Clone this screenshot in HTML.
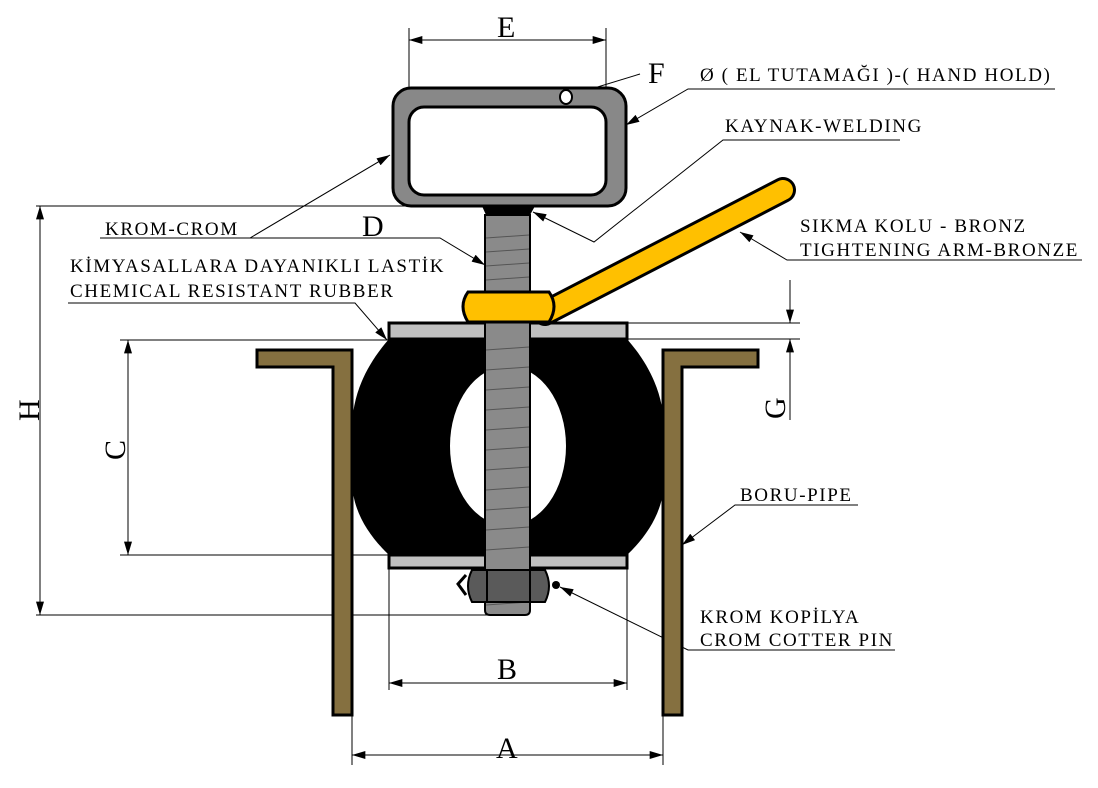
<!DOCTYPE html>
<html><head><meta charset="utf-8"><style>
body{margin:0;background:#fff}
svg text{font-family:"Liberation Serif",serif;fill:#000}
.t{font-size:19px;letter-spacing:1.6px}
.big{font-size:30px}
</style></head><body>
<svg width="1098" height="783" viewBox="0 0 1098 783" xmlns="http://www.w3.org/2000/svg">
<defs>
<marker id="a" viewBox="0 0 10 6" refX="10" refY="3" markerWidth="18" markerHeight="8" markerUnits="userSpaceOnUse" orient="auto-start-reverse"><path d="M0,0 L10,3 L0,6 Z" fill="#000"/></marker>
</defs>
<g stroke="#000" stroke-width="1" fill="none">
<line x1="409" y1="28" x2="409" y2="107"/><line x1="606" y1="28" x2="606" y2="107"/>
<line x1="409" y1="40" x2="606" y2="40" marker-start="url(#a)" marker-end="url(#a)"/>
<line x1="36" y1="206" x2="485" y2="206"/><line x1="36" y1="615" x2="490" y2="615"/>
<line x1="40" y1="206" x2="40" y2="615" marker-start="url(#a)" marker-end="url(#a)"/>
<line x1="120" y1="340" x2="389" y2="340"/><line x1="120" y1="555" x2="389" y2="555"/>
<line x1="128" y1="340" x2="128" y2="555" marker-start="url(#a)" marker-end="url(#a)"/>
<line x1="627" y1="323" x2="800" y2="323"/><line x1="627" y1="339" x2="800" y2="339"/>
<line x1="790" y1="280" x2="790" y2="323" marker-end="url(#a)"/>
<line x1="790" y1="420" x2="790" y2="339" marker-end="url(#a)"/>
<line x1="389" y1="568" x2="389" y2="690"/><line x1="627" y1="568" x2="627" y2="690"/>
<line x1="389" y1="683" x2="627" y2="683" marker-start="url(#a)" marker-end="url(#a)"/>
<line x1="352" y1="715" x2="352" y2="765"/><line x1="663" y1="715" x2="663" y2="765"/>
<line x1="352" y1="755" x2="663" y2="755" marker-start="url(#a)" marker-end="url(#a)"/>
<polyline points="640,74 568,96" marker-end="url(#a)"/>
<polyline points="1055,89 688,89 626,125" marker-end="url(#a)"/>
<polyline points="900,140 723,140 594,242 533,212" marker-end="url(#a)"/>
<polyline points="1082,260 787,260 740,232" marker-end="url(#a)"/>
<polyline points="100,238 250,238 390,155" marker-end="url(#a)"/>
<polyline points="250,238 440,238 485,265" marker-end="url(#a)"/>
<polyline points="68,303 355,303 387,340" marker-end="url(#a)"/>
<polyline points="858,505 735,505 682,545" marker-end="url(#a)"/>
<polyline points="895,650 688,650 560,587" marker-end="url(#a)"/>
</g>
<polygon points="257,350 352,350 352,715 333,715 333,367 257,367" fill="#857040" stroke="#000" stroke-width="3"/>
<polygon points="758,350 663,350 663,715 682,715 682,367 758,367" fill="#857040" stroke="#000" stroke-width="3"/>
<path d="M389,339 C362,370 352,400 352,430 L352,480 C352,510 368,535 389,555 L627,555 C648,535 664,510 664,480 L664,430 C664,400 654,370 627,339 Z" fill="#000"/>
<ellipse cx="508" cy="446" rx="58" ry="80" fill="#fff"/>
<rect x="389" y="323" width="238" height="16" fill="#c0c0c0" stroke="#000" stroke-width="3"/>
<rect x="389" y="555" width="238" height="13" fill="#c0c0c0" stroke="#000" stroke-width="3"/>
<path d="M485,215 L530,215 L530,610 Q530,615 525,615 L490,615 Q485,615 485,610 Z" fill="#8a8a8a" stroke="#000" stroke-width="2"/>
<g stroke="#555" stroke-width="1">
<line x1="486" y1="238" x2="529" y2="235"/><line x1="486" y1="252" x2="529" y2="249"/><line x1="486" y1="266" x2="529" y2="263"/><line x1="486" y1="280" x2="529" y2="277"/>
<line x1="486" y1="350" x2="529" y2="347"/><line x1="486" y1="370" x2="529" y2="367"/><line x1="486" y1="390" x2="529" y2="387"/><line x1="486" y1="410" x2="529" y2="407"/><line x1="486" y1="430" x2="529" y2="427"/><line x1="486" y1="450" x2="529" y2="447"/><line x1="486" y1="470" x2="529" y2="467"/><line x1="486" y1="490" x2="529" y2="487"/><line x1="486" y1="510" x2="529" y2="507"/><line x1="486" y1="530" x2="529" y2="527"/><line x1="486" y1="550" x2="529" y2="547"/><line x1="486" y1="605" x2="529" y2="602"/>
</g>
<path d="M472,570 L545,570 Q553,586 545,602 L472,602 Q464,586 472,570 Z" fill="#5a5a5a" stroke="#000" stroke-width="2"/>
<line x1="487" y1="570" x2="487" y2="602" stroke="#000" stroke-width="2"/><line x1="530" y1="570" x2="530" y2="602" stroke="#000" stroke-width="2"/>
<circle cx="556" cy="585" r="4" fill="#000"/>
<path d="M466,575 L458,584 L466,595" stroke="#000" stroke-width="3" fill="none"/>
<path d="M482,206 L535,206 L530,215 L486,215 Z" fill="#000"/>
<rect x="393" y="88" width="233" height="118" rx="18" fill="#888" stroke="#000" stroke-width="3"/>
<rect x="409" y="107" width="197" height="88" rx="15" fill="#fff" stroke="#000" stroke-width="3"/>
<ellipse cx="566" cy="97" rx="6" ry="7" fill="#fff" stroke="#000" stroke-width="2"/>
<line x1="545" y1="313" x2="783" y2="190" stroke="#000" stroke-width="26" stroke-linecap="round"/>
<line x1="545" y1="313" x2="783" y2="190" stroke="#ffc000" stroke-width="20" stroke-linecap="round"/>
<path d="M468,292 L549,292 Q559,306 549,322 L468,322 Q458,306 468,292 Z" fill="#ffc000" stroke="#000" stroke-width="3"/>
<text x="497" y="37" class="big">E</text>
<text x="648" y="83" class="big">F</text>
<text x="362" y="236" class="big">D</text>
<text x="497" y="679" class="big">B</text>
<text x="496" y="758" class="big">A</text>
<text class="big" transform="translate(39,421) rotate(-90)">H</text>
<text class="big" transform="translate(125,460) rotate(-90)">C</text>
<text class="big" transform="translate(785,419) rotate(-90)">G</text>
<text x="700" y="81" class="t">Ø ( EL TUTAMAĞI )-( HAND HOLD)</text>
<text x="725" y="132" class="t">KAYNAK-WELDING</text>
<text x="800" y="232" class="t">SIKMA KOLU - BRONZ</text>
<text x="800" y="256" class="t">TIGHTENING ARM-BRONZE</text>
<text x="105" y="235" class="t">KROM-CROM</text>
<text x="70" y="272" class="t">KİMYASALLARA DAYANIKLI LASTİK</text>
<text x="70" y="297" class="t">CHEMICAL RESISTANT RUBBER</text>
<text x="740" y="501" class="t">BORU-PIPE</text>
<text x="700" y="623" class="t">KROM KOPİLYA</text>
<text x="700" y="646" class="t">CROM COTTER PIN</text>
</svg>
</body></html>
